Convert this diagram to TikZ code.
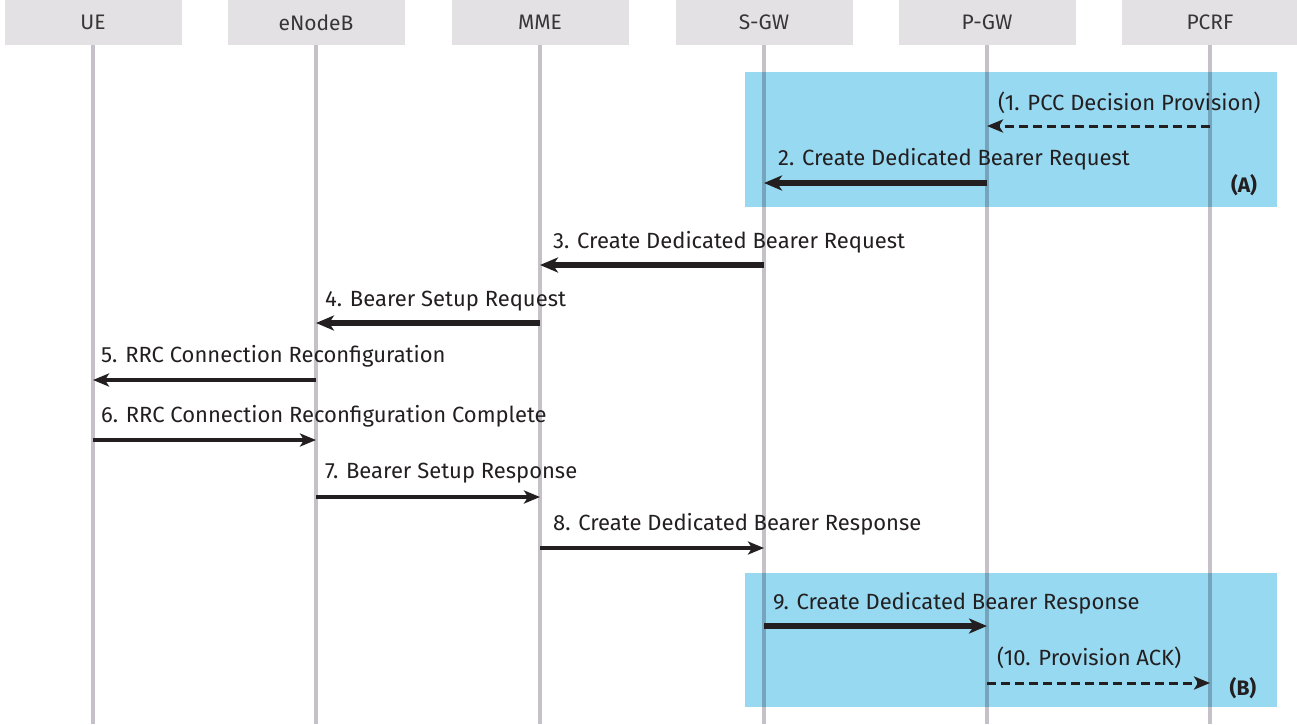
\documentclass[tikz,border=0pt]{standalone}
\usepackage{fontspec}
\setmainfont{Fira Sans}
\usetikzlibrary{arrows.meta}
\definecolor{hdrfill}{HTML}{E3E1E4}
\definecolor{lifegray}{HTML}{C6C1C9}
\definecolor{zoneblue}{HTML}{97D9F1}
\definecolor{ink}{HTML}{231F20}
\tikzset{
  header/.style={fill=hdrfill, minimum width=177pt, minimum height=45pt,
    inner sep=0pt, font=\fontsize{21}{23}\selectfont, text=ink!90},
  lifeline/.style={draw=lifegray, line width=4pt},
  zone/.style={fill=zoneblue},
  heavymsg/.style={draw=ink, line width=6pt, -{Stealth[length=18pt,width=15pt,inset=5pt]}},
  msg/.style={draw=ink, line width=3.6pt, -{Stealth[length=16pt,width=13pt,inset=4pt]}},
  lightmsg/.style={draw=ink, line width=3.2pt, -{Stealth[length=16pt,width=13pt,inset=4pt]}},
  optmsg/.style={draw=ink, line width=3pt, dash pattern=on 9pt off 5pt,
    -{Stealth[length=16pt,width=13pt,inset=4pt]}},
  msglabel/.style={anchor=base west, inner sep=0pt, text=ink,
    font=\fontsize{22}{24}\selectfont},
  zonelabel/.style={anchor=base, inner sep=0pt, text=ink,
    font=\bfseries\fontsize{21}{23}\selectfont},
}
\begin{document}
\begin{tikzpicture}[x=1pt, y=-1pt]
\useasboundingbox (0,0) rectangle (1297,724);

% participants
\node[header] (ue)   at (93,22.5)   {UE};
\node[header] (enb)  at (316,22.5)  {eNodeB};
\node[header] (mme)  at (540,22.5)  {MME};
\node[header] (sgw)  at (764,22.5)  {S-GW};
\node[header] (pgw)  at (987,22.5)  {P-GW};
\node[header] (pcrf) at (1210,22.5) {PCRF};

% shaded procedure zones
\fill[zone] (745,72) rectangle (1277,207);
\fill[zone] (745,573) rectangle (1277,707);

% lifelines, darkened where they cross the zones
\begin{scope}[blend mode=multiply]
\foreach \p in {ue,enb,mme,sgw,pgw,pcrf}
  \draw[lifeline] (\p.south) -- (\p.south |- 0,724);
\end{scope}

% zone labels
\node[zonelabel] (zA) at (1244,192) {(A)};
\node[zonelabel] (zB) at (1243,695) {(B)};

% messages
\draw[optmsg]   (pcrf.south |- 0,126) -- (pgw.south |- 0,126);
\node[msglabel] (l1) at (998,110) {(1. PCC Decision Provision)};

\draw[heavymsg] (pgw.south |- 0,183) -- (sgw.south |- 0,183);
\node[msglabel] (l2) at (778,165) {2. Create Dedicated Bearer Request};

\draw[heavymsg] (sgw.south |- 0,265) -- (mme.south |- 0,265);
\node[msglabel] (l3) at (553,248) {3. Create Dedicated Bearer Request};

\draw[heavymsg] (mme.south |- 0,323) -- (enb.south |- 0,323);
\node[msglabel] (l4) at (325,306) {4. Bearer Setup Request};

\draw[msg]      (enb.south |- 0,380) -- (ue.south |- 0,380);
\node[msglabel] (l5) at (101,362) {5. RRC Connection Reconfiguration};

\draw[msg]      (ue.south |- 0,440) -- (enb.south |- 0,440);
\node[msglabel] (l6) at (101,422) {6. RRC Connection Reconfiguration Complete};

\draw[lightmsg] (enb.south |- 0,497) -- (mme.south |- 0,497);
\node[msglabel] (l7) at (325,478) {7. Bearer Setup Response};

\draw[msg]      (mme.south |- 0,548) -- (sgw.south |- 0,548);
\node[msglabel] (l8) at (553,530) {8. Create Dedicated Bearer Response};

\draw[heavymsg] (sgw.south |- 0,626) -- (pgw.south |- 0,626);
\node[msglabel] (l9) at (773,609) {9. Create Dedicated Bearer Response};

\draw[optmsg]   (pgw.south |- 0,683) -- (pcrf.south |- 0,683);
\node[msglabel] (l10) at (997,665) {(10. Provision ACK)};
\end{tikzpicture}
\end{document}
